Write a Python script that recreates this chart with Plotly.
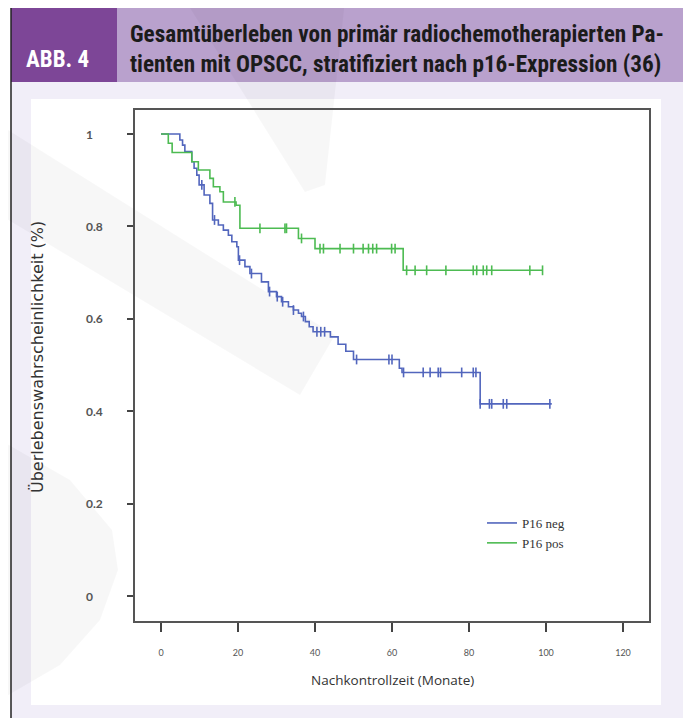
import plotly.graph_objects as go

# ---------------- data ----------------
# P16 neg: event times (months) and survival after each step
neg_t = [0, 4.9, 5.6, 6.2, 8.0, 8.6, 9.3, 9.9, 11.2, 12.7, 13.4, 14.9, 16.2, 17.5, 18.4, 19.7,
         20.1, 21.8, 23.1, 26.1, 27.9, 30.0, 31.3, 33.1, 34.4, 35.7, 36.5, 37.5, 38.5, 39.5,
         44.0, 46.0, 48.0, 50.0, 61.9, 62.6, 82.9, 101.5]
neg_s = [1.0, 0.987, 0.976, 0.962, 0.940, 0.926, 0.911, 0.890, 0.868, 0.850, 0.814, 0.803, 0.792,
         0.781, 0.767, 0.756, 0.727, 0.713, 0.698, 0.680, 0.659, 0.648, 0.637, 0.626, 0.619, 0.612,
         0.605, 0.594, 0.583, 0.572, 0.561, 0.545, 0.530, 0.512, 0.493, 0.484, 0.416, 0.416]
neg_cens = [10.6, 13.9, 20.4, 23.5, 28.2, 30.2, 31.6, 34.4, 37.0, 40.5, 41.5, 42.5, 50.8,
            59.2, 60.0, 63.0, 68.1, 69.9, 72.0, 72.6, 78.1, 81.1, 81.8, 82.9, 85.3, 85.9,
            88.9, 89.8, 101.0]

# P16 pos
pos_t = [0, 1.9, 2.9, 8.0, 9.7, 12.7, 13.6, 15.3, 16.2, 19.5, 20.5, 35.7, 40.0, 62.9, 99.1]
pos_s = [1.0, 0.980, 0.960, 0.940, 0.922, 0.904, 0.886, 0.875, 0.853, 0.846, 0.796, 0.774,
         0.752, 0.705, 0.705]
pos_cens = [19.2, 25.7, 32.2, 32.6, 36.5, 41.3, 42.2, 46.5, 50.0, 52.5, 53.9, 55.0, 56.0,
            59.9, 60.8, 63.8, 66.0, 69.0, 74.0, 81.1, 82.0, 83.7, 84.6, 85.9, 95.8, 99.1]

x_ticks = [0, 20, 40, 60, 80, 100, 120]
y_ticks = [0, 0.2, 0.4, 0.6, 0.8, 1]
y_tick_text = ["0", "0.2", "0.4", "0.6", "0.8", "1"]

series_names = ["P16 neg", "P16 pos"]
title_line1 = "Gesamtüberleben von primär radiochemotherapierten Pa-"
title_line2 = "tienten mit OPSCC, stratifiziert nach p16-Expression (36)"
x_title = "Nachkontrollzeit (Monate)"
y_title = "Überlebenswahrscheinlichkeit (%)"

BLUE = "#5266bd"
GREEN = "#4dbb52"

W, H = 691, 718
OFF = 8  # page body margin
L, R, T, B = 135, 649, 110, 621  # plot frame in screen pixels


def step_value(ts, ss, t):
    v = ss[0]
    for ti, si in zip(ts, ss):
        if ti <= t:
            v = si
    return v


def px(x):
    return (x - L) / (R - L)


def py(y):
    return (B - y) / (B - T)


fig = go.Figure()

for name, ts, ss, cens, col in [(series_names[0], neg_t, neg_s, neg_cens, BLUE),
                                (series_names[1], pos_t, pos_s, pos_cens, GREEN)]:
    fig.add_trace(go.Scatter(x=ts, y=ss, mode="lines", line=dict(color=col, width=1.6, shape="hv"),
                             name=name, showlegend=True))
    fig.add_trace(go.Scatter(x=cens, y=[step_value(ts, ss, c) for c in cens], mode="markers",
                             marker=dict(symbol="line-ns", size=7, line=dict(color=col, width=1.6)),
                             showlegend=False, hoverinfo="skip"))

shapes = []
shapes.append(dict(type="rect", xref="paper", yref="paper", x0=px(11), x1=px(686), y0=py(730), y1=py(82),
                   fillcolor="#f1eef8", line=dict(width=0), layer="below"))
shapes.append(dict(type="rect", xref="paper", yref="paper", x0=px(31), x1=px(661), y0=py(705), y1=py(99),
                   fillcolor="white", line=dict(width=0), layer="below"))
shapes.append(dict(type="rect", xref="paper", yref="paper", x0=px(11), x1=px(117), y0=py(82), y1=py(7),
                   fillcolor="#7d4697", line=dict(width=0), layer="below"))
shapes.append(dict(type="rect", xref="paper", yref="paper", x0=px(117), x1=px(686), y0=py(82), y1=py(7),
                   fillcolor="#b9a1cd", line=dict(width=0), layer="below"))


def path(pts):
    return "M " + " L ".join(f"{px(a):.4f},{py(b):.4f}" for a, b in pts) + " Z"


wm = dict(type="path", xref="paper", yref="paper", fillcolor="rgba(0,0,0,0.03)", line=dict(width=0),
          layer="below")
shapes.append(dict(wm, path=path([(0, 125), (335, 335), (300, 395), (0, 215)])))
shapes.append(dict(wm, path=path([(185, 0), (345, 0), (325, 185), (305, 192)])))
shapes.append(dict(wm, path=path([(0, 440), (70, 480), (112, 530), (118, 570), (100, 620), (60, 665), (0, 700)])))

shapes.append(dict(type="line", xref="paper", yref="paper", x0=px(11), x1=px(11), y0=py(730), y1=py(6),
                   line=dict(color="#222", width=1.5)))
shapes.append(dict(type="line", xref="paper", yref="paper", x0=px(686), x1=px(686), y0=py(730), y1=py(6),
                   line=dict(color="#222", width=1.5)))
shapes.append(dict(type="line", xref="paper", yref="paper", x0=px(11), x1=px(686), y0=py(6), y1=py(6),
                   line=dict(color="#222", width=2)))

ann = []
TFONT = "Liberation Sans Narrow, Roboto Condensed, DejaVu Sans Condensed, Arial Narrow, sans-serif"
ann.append(dict(text="<b>" + title_line1 + "</b>", x=px(129), y=py(48.5), xref="paper", yref="paper",
                xanchor="left", yanchor="bottom", showarrow=False, borderpad=0,
                font=dict(family=TFONT, size=23.2, color="#1b1b1b")))
ann.append(dict(text="<b>" + title_line2 + "</b>", x=px(129), y=py(48.5), xref="paper", yref="paper",
                xanchor="left", yanchor="top", showarrow=False, borderpad=0,
                font=dict(family=TFONT, size=23.2, color="#1b1b1b")))
ann.append(dict(text="<b>ABB. 4</b>", x=px(24), y=py(60), xref="paper", yref="paper",
                xanchor="left", yanchor="middle", showarrow=False,
                font=dict(family=TFONT, size=23, color="white")))
for v, t in zip(y_ticks, y_tick_text):
    ann.append(dict(text="<b>" + t + "</b>", x=px(84), y=v, xref="paper", yref="y", xanchor="left",
                    yanchor="middle", showarrow=False,
                    font=dict(family="Lato, sans-serif", size=12, color="#555")))
ann.append(dict(text=x_title, x=0.5, y=py(680), xref="paper", yref="paper", xanchor="center",
                yanchor="middle", showarrow=False,
                font=dict(family="Open Sans, sans-serif", size=13.5, color="#333")))
ann.append(dict(text=y_title, x=px(37), y=py(357), xref="paper", yref="paper", xanchor="center",
                yanchor="middle", textangle=-90, showarrow=False,
                font=dict(family="DejaVu Sans, sans-serif", size=16, color="#333")))

fig.update_layout(
    width=W, height=H,
    margin=dict(l=L - OFF, r=W - (R - OFF), t=T - OFF, b=H - (B - OFF)),
    paper_bgcolor="white", plot_bgcolor="rgba(0,0,0,0)",
    shapes=shapes, annotations=ann,
    showlegend=True,
    legend=dict(x=px(482), y=py(508), xanchor="left", yanchor="top", bgcolor="rgba(0,0,0,0)",
                font=dict(family="Liberation Serif, serif", size=13, color="#333"),
                tracegroupgap=0, itemwidth=30),
    xaxis=dict(range=[-6.75, 126.75], tickvals=x_ticks, ticks="outside", ticklen=9, tickwidth=2,
               tickcolor="#444", showline=True, linecolor="#555", linewidth=2, mirror=True,
               showgrid=False, zeroline=False, ticklabelstandoff=13,
               tickfont=dict(family="Lato, sans-serif", size=9, color="#555")),
    yaxis=dict(range=[-0.054, 1.052], tickvals=y_ticks, showticklabels=False, ticks="outside", ticklen=6,
               tickwidth=2, tickcolor="#444", showline=True, linecolor="#555", linewidth=2, mirror=True,
               showgrid=False, zeroline=False),
)

fig.write_html("out.html")
